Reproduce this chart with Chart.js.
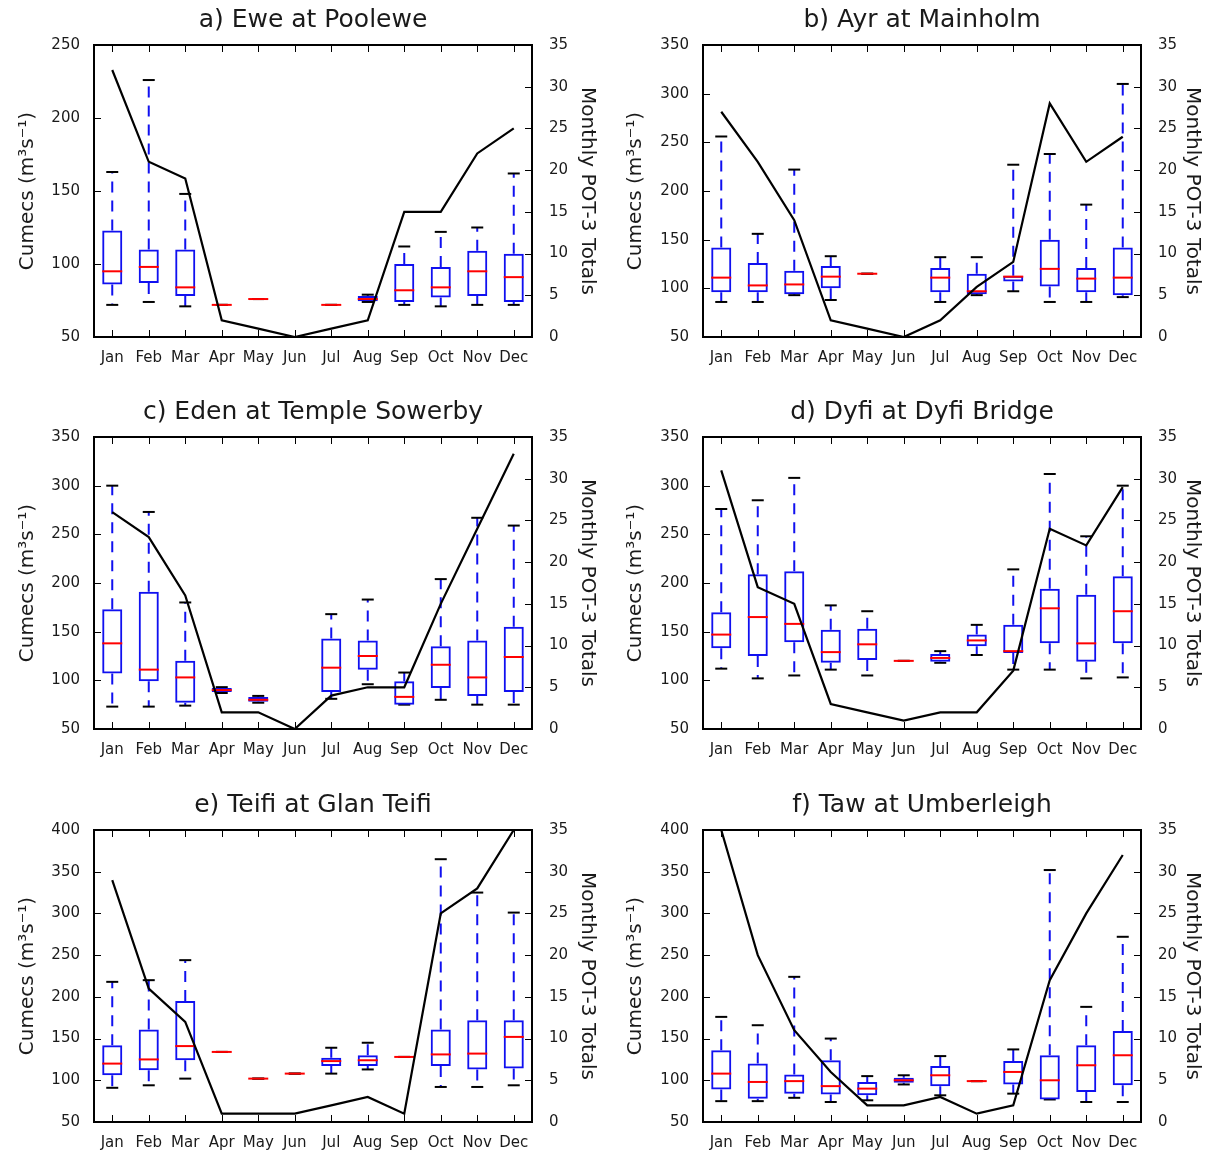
<!DOCTYPE html>
<html>
<head>
<meta charset="utf-8">
<script src="https://cdn.jsdelivr.net/npm/chart.js@4.4.1/dist/chart.umd.min.js"></script>
<style>
  body { margin: 0; background: #fff; }
  #page { position: relative; width: 1207px; height: 1152px; background: #fff; }
  .panel { position: absolute; height: 384px; }
</style>
</head>
<body>
<div id="page">
  <div class="panel" style="left:0;top:0;width:603px"><canvas id="p-a"></canvas></div>
  <div class="panel" style="left:603px;top:0;width:604px"><canvas id="p-b"></canvas></div>
  <div class="panel" style="left:0;top:392px;width:603px"><canvas id="p-c"></canvas></div>
  <div class="panel" style="left:603px;top:392px;width:604px"><canvas id="p-d"></canvas></div>
  <div class="panel" style="left:0;top:785px;width:603px"><canvas id="p-e"></canvas></div>
  <div class="panel" style="left:603px;top:785px;width:604px"><canvas id="p-f"></canvas></div>
</div>
<script>
const months = ['Jan', 'Feb', 'Mar', 'Apr', 'May', 'Jun', 'Jul', 'Aug', 'Sep', 'Oct', 'Nov', 'Dec'];

/* a) Ewe at Poolewe */
const eweMin = [72, 74, 71, 72, 76, null, 72, 74, 72, 71, 72, 72];
const eweQ1  = [86, 87, 78, 72, 76, null, 72, 74.5, 74, 77, 78, 74];
const eweMed = [95, 98, 84, 72, 76, null, 72, 76, 82, 84, 95, 91];
const eweQ3  = [123, 110, 110, 72, 76, null, 72, 78, 100, 98, 109, 107];
const eweMax = [163, 226, 148, 72, 76, null, 72, 79, 112, 122, 125, 162];
const ewePot = [32, 21, 19, 2, 1, 0, 1, 2, 15, 15, 22, 25];

/* b) Ayr at Mainholm */
const ayrMin = [86, 86, 93, 88, 115, null, 86, 93, 97, 86, 86, 91];
const ayrQ1  = [96, 96, 94, 100, 115, null, 96, 94, 107, 102, 96, 93];
const ayrMed = [111, 103, 104, 112, 115, null, 111, 97, 112, 120, 110, 111];
const ayrQ3  = [142, 126, 118, 123, 115, null, 121, 115, 113, 150, 121, 142];
const ayrMax = [256, 156, 222, 133, 115, null, 132, 132, 227, 238, 186, 310];
const ayrPot = [27, 21, 14, 2, 1, 0, 2, 6, 9, 28, 21, 24];

/* c) Eden at Temple Sowerby */
const edenMin = [73, 73, 74, 87, 77, null, 81, 96, 75, 80, 75, 75];
const edenQ1  = [107, 99, 77, 88, 78, null, 88, 111, 75, 92, 84, 88];
const edenMed = [138, 111, 103, 90, 80, null, 113, 125, 83, 116, 103, 124];
const edenQ3  = [173, 191, 120, 92, 83, null, 143, 141, 99, 135, 141, 155];
const edenMax = [300, 273, 180, 93, 84, null, 168, 183, 108, 204, 267, 259];
const edenPot = [26, 23, 16, 2, 2, 0, 4, 5, 5, 15, 24, 33];

/* d) Dyfi at Dyfi Bridge */
const dyfiMin = [112, 102, 105, 111, 105, 120, 118, 126, 111, 111, 102, 103];
const dyfiQ1  = [133, 125, 139, 118, 121, 120, 119, 135, 128, 138, 119, 138];
const dyfiMed = [147, 165, 158, 129, 137, 120, 123, 141, 130, 174, 138, 171];
const dyfiQ3  = [170, 209, 212, 152, 153, 120, 127, 147, 157, 194, 188, 207];
const dyfiMax = [276, 285, 308, 177, 171, 120, 130, 157, 214, 312, 248, 300];
const dyfiPot = [31, 17, 15, 3, 2, 1, 2, 2, 7, 24, 22, 29];

/* e) Teifi at Glan Teifi */
const teifiMin = [91, 94, 102, 134, 102, 108, 108, 113, 128, 92, 92, 94];
const teifiQ1  = [106, 112, 124, 134, 102, 108, 117, 117, 128, 117, 113, 114];
const teifiMed = [120, 125, 141, 134, 102, 108, 123, 124, 128, 131, 132, 152];
const teifiQ3  = [142, 161, 195, 134, 102, 108, 127, 130, 128, 161, 172, 172];
const teifiMax = [218, 220, 244, 134, 102, 108, 139, 145, 128, 365, 325, 301];
const teifiPot = [29, 16, 12, 1, 1, 1, 2, 3, 1, 25, 28, 35];

/* f) Taw at Umberleigh */
const tawMin = [75, 75, 79, 74, 76, 95, 82, 99, 84, 77, 74, 74];
const tawQ1  = [89, 78, 84, 83, 82, 97, 93, 99, 95, 77, 86, 94];
const tawMed = [108, 98, 99, 93, 90, 100, 106, 99, 110, 100, 118, 130];
const tawQ3  = [136, 120, 107, 124, 98, 103, 117, 99, 123, 130, 142, 159];
const tawMax = [176, 166, 224, 150, 105, 106, 129, 99, 137, 352, 188, 272];
const tawPot = [35, 20, 11, 6, 2, 2, 3, 1, 2, 17, 25, 32];

const FONT = 'DejaVu Sans';
const INK = '#1a1a1a';

/* ─────────────────────────────────────────
   whiskers (dashed) + frame with inward ticks
───────────────────────────────────────── */
const boxFrame = {
    id: 'boxFrame',
    beforeDatasetsDraw(chart, args, opts) {
        const {ctx, scales: {x, y}} = chart;
        ctx.save();
        ctx.strokeStyle = '#1010f0';
        ctx.lineWidth = 2;
        ctx.setLineDash([11, 8]);
        opts.q1.forEach((q1, i) => {
            if (q1 == null) return;
            const px = x.getPixelForValue(i);
            ctx.beginPath();
            ctx.moveTo(px, y.getPixelForValue(opts.q3[i]));
            ctx.lineTo(px, y.getPixelForValue(opts.hi[i]));
            ctx.moveTo(px, y.getPixelForValue(q1));
            ctx.lineTo(px, y.getPixelForValue(opts.lo[i]));
            ctx.stroke();
        });
        ctx.restore();
    },
    afterDraw(chart) {
        const {ctx, chartArea: a, scales: {x, y, y2}} = chart;
        const len = 7;
        ctx.save();
        ctx.strokeStyle = '#000';
        ctx.lineWidth = 1;
        ctx.beginPath();
        x.ticks.forEach((t, i) => {
            const px = Math.round(x.getPixelForTick(i)) + 0.5;
            ctx.moveTo(px, a.bottom); ctx.lineTo(px, a.bottom - len);
            ctx.moveTo(px, a.top); ctx.lineTo(px, a.top + len);
        });
        y.ticks.forEach(t => {
            const py = Math.round(y.getPixelForValue(t.value)) + 0.5;
            ctx.moveTo(a.left, py); ctx.lineTo(a.left + len, py);
        });
        y2.ticks.forEach(t => {
            const py = Math.round(y2.getPixelForValue(t.value)) + 0.5;
            ctx.moveTo(a.right, py); ctx.lineTo(a.right - len, py);
        });
        ctx.stroke();
        ctx.lineWidth = 2;
        ctx.strokeRect(a.left, a.top, a.right - a.left, a.bottom - a.top);
        ctx.restore();
    }
};

function makePanel(id, title, yMax, lo, q1, med, q3, hi, pot, leftW, rightW, leftPad, rightPad) {
    const boxes = q1.map((v, i) => v == null ? null : [v, q3[i]]);
    new Chart(document.getElementById(id), {
        type: 'bar',
        data: {
            labels: months,
            datasets: [
                {
                    type: 'line', data: pot, yAxisID: 'y2',
                    borderColor: '#000', borderWidth: 2.2, pointRadius: 0, tension: 0, order: 0
                },
                {
                    type: 'line', data: med, yAxisID: 'y', showLine: false,
                    pointStyle: 'line', pointRadius: 10, pointBorderColor: '#ff0000', pointBorderWidth: 2, order: 1
                },
                {
                    type: 'bar', data: boxes, yAxisID: 'y',
                    backgroundColor: 'rgba(0,0,0,0)', borderColor: '#1010f0', borderWidth: 2,
                    borderSkipped: false, barPercentage: 0.55, categoryPercentage: 1, order: 2
                },
                {
                    type: 'line', data: hi, yAxisID: 'y', showLine: false,
                    pointStyle: 'line', pointRadius: 6, pointBorderColor: '#000', pointBorderWidth: 2, order: 3
                },
                {
                    type: 'line', data: lo, yAxisID: 'y', showLine: false,
                    pointStyle: 'line', pointRadius: 6, pointBorderColor: '#000', pointBorderWidth: 2, order: 3
                }
            ]
        },
        options: {
            responsive: true,
            maintainAspectRatio: false,
            animation: false,
            layout: {padding: 0},
            plugins: {
                legend: {display: false},
                tooltip: {enabled: false},
                title: {
                    display: true, text: title, fullSize: false, color: INK,
                    font: {family: FONT, size: 25, weight: 'normal', lineHeight: 1.2},
                    padding: {top: 5, bottom: 10}
                },
                boxFrame: {lo: lo, q1: q1, q3: q3, hi: hi}
            },
            scales: {
                x: {
                    offset: true,
                    grid: {display: false},
                    border: {display: false},
                    ticks: {color: INK, font: {family: FONT, size: 15}, padding: 4, maxRotation: 0, autoSkip: false},
                    afterFit: s => { s.height = 47; }
                },
                y: {
                    position: 'left', min: 50, max: yMax,
                    grid: {display: false},
                    border: {display: false},
                    ticks: {stepSize: 50, color: INK, font: {family: FONT, size: 15}, padding: 6},
                    title: {
                        display: true, text: 'Cumecs (m³s⁻¹)', color: INK,
                        font: {family: FONT, size: 20}, padding: {top: leftPad, bottom: 0}
                    },
                    afterFit: s => { s.width = leftW; }
                },
                y2: {
                    position: 'right', min: 0, max: 35,
                    grid: {display: false},
                    border: {display: false},
                    ticks: {stepSize: 5, color: INK, font: {family: FONT, size: 15}, padding: 9},
                    title: {
                        display: true, text: 'Monthly POT-3 Totals', color: INK,
                        font: {family: FONT, size: 20}, padding: {top: rightPad, bottom: 0}
                    },
                    afterFit: s => { s.width = rightW; }
                }
            }
        },
        plugins: [boxFrame]
    });
}

makePanel('p-a', 'a) Ewe at Poolewe', 250, eweMin, eweQ1, eweMed, eweQ3, eweMax, ewePot, 94, 71, 16, 4);
makePanel('p-b', 'b) Ayr at Mainholm', 350, ayrMin, ayrQ1, ayrMed, ayrQ3, ayrMax, ayrPot, 100, 66, 21, 3);
makePanel('p-c', 'c) Eden at Temple Sowerby', 350, edenMin, edenQ1, edenMed, edenQ3, edenMax, edenPot, 94, 71, 16, 4);
makePanel('p-d', 'd) Dyfi at Dyfi Bridge', 350, dyfiMin, dyfiQ1, dyfiMed, dyfiQ3, dyfiMax, dyfiPot, 100, 66, 21, 3);
makePanel('p-e', 'e) Teifi at Glan Teifi', 400, teifiMin, teifiQ1, teifiMed, teifiQ3, teifiMax, teifiPot, 94, 71, 16, 4);
makePanel('p-f', 'f) Taw at Umberleigh', 400, tawMin, tawQ1, tawMed, tawQ3, tawMax, tawPot, 100, 66, 21, 3);
</script>
</body>
</html>
